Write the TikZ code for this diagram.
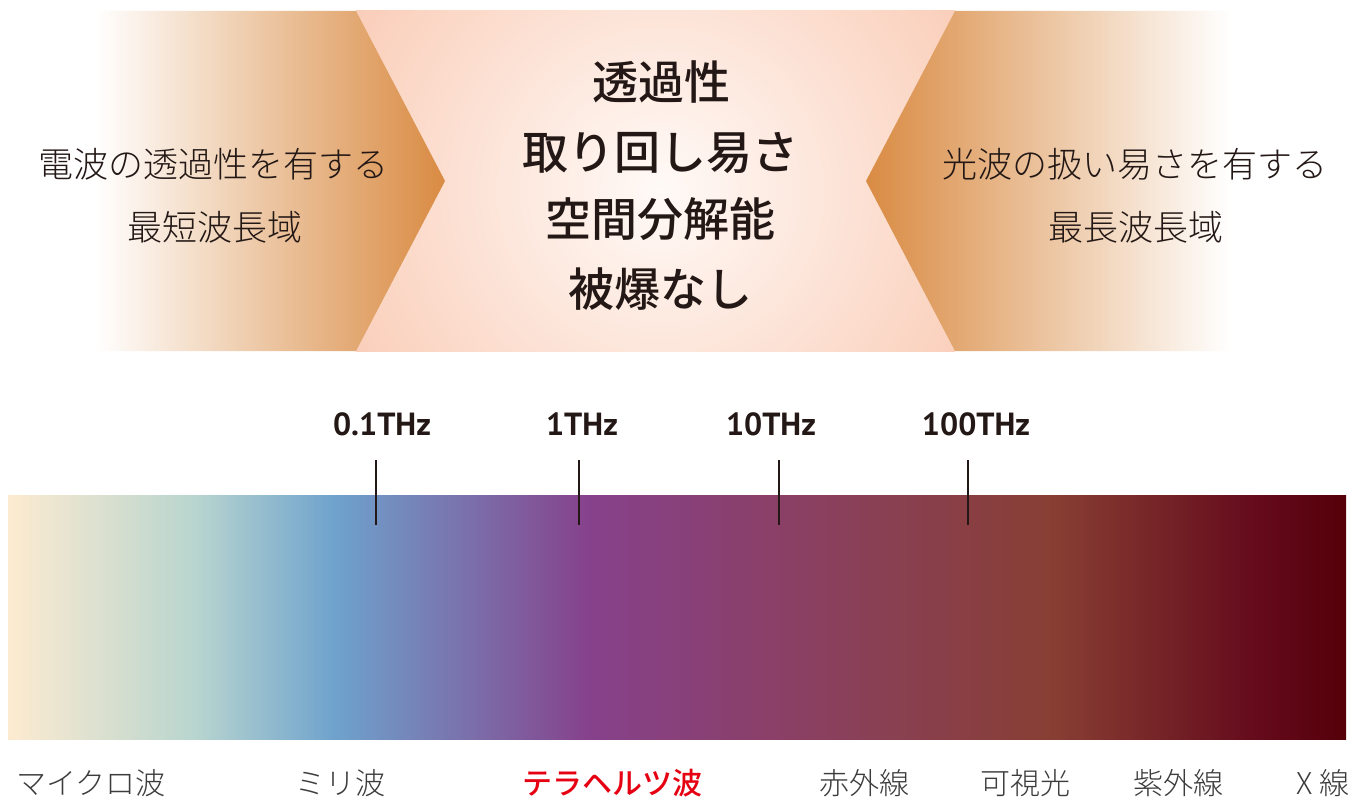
\documentclass[tikz,border=0pt]{standalone}
\usepackage{fontspec}
\newfontfamily\jp{Noto Sans CJK JP}
\newfontfamily\jplight{Noto Sans CJK JP}[UprightFont=* Light]
\newfontfamily\jpmed{Noto Sans CJK JP}[UprightFont=* Medium]
\newfontfamily\freqfont{PT Sans}
\definecolor{arroworange}{HTML}{D98B43}
\definecolor{pinkedge}{HTML}{FACDB8}
\definecolor{pinkcenter}{HTML}{FFFAF7}
\definecolor{txtdark}{HTML}{231815}
\definecolor{txtgray}{HTML}{3C3C3C}
\definecolor{terared}{HTML}{E50012}
\definecolor{b0}{HTML}{FDEBD0}
\definecolor{b1}{HTML}{B8D5CF}
\definecolor{b2}{HTML}{6EA2CD}
\definecolor{b3}{HTML}{86418B}
\definecolor{b4}{HTML}{8A4068}
\definecolor{b5}{HTML}{883F33}
\definecolor{b6}{HTML}{640A1C}
\definecolor{b7}{HTML}{550009}
\pgfdeclarehorizontalshading{barshade}{100bp}{color(0bp)=(b0); color(25bp)=(b0); color(32bp)=(b1); color(37.25bp)=(b2); color(46.75bp)=(b3); color(53.5bp)=(b4); color(64bp)=(b5); color(71.75bp)=(b6); color(75bp)=(b7); color(100bp)=(b7)}
\tikzset{
  centertxt/.style={inner sep=0pt, text=txtdark, font=\jpmed\fontsize{46}{46}\selectfont},
  sidetxt/.style={inner sep=0pt, text=txtdark, font=\jplight\fontsize{35}{35}\selectfont},
  freqlbl/.style={inner sep=0pt, anchor=base, text=txtdark, font=\freqfont\bfseries\fontsize{32}{32}\selectfont},
  bandlbl/.style={inner sep=0pt, text=txtgray, font=\jplight\fontsize{30}{30}\selectfont},
  redlbl/.style={inner sep=0pt, text=terared, font=\jpmed\fontsize{30}{30}\selectfont},
  tickline/.style={draw=txtdark, line width=2pt}
}
\begin{document}
\begin{tikzpicture}[x=1pt,y=-1pt]
\useasboundingbox[fill=white] (0,0) rectangle (1368,800);
% centre panel
\fill[pinkedge] (356,11) rectangle (955,351);
\begin{scope}
  \clip (356,11) rectangle (955,351);
  \shade[inner color=pinkcenter, outer color=pinkedge] (660,190) circle (360);
\end{scope}
% left arrow
\shade[left color=white, right color=arroworange] (95,11) -- (356,11) -- (445,181) -- (356,351) -- (95,351) -- cycle;
% right arrow
\shade[left color=arroworange, right color=white] (1230,11) -- (955,11) -- (866,181) -- (955,351) -- (1230,351) -- cycle;
% texts
\node[sidetxt] (l1) at (213,164) {電波の透過性を有する};
\node[sidetxt] (l2) at (215,227) {最短波長域};
\node[sidetxt] (r1) at (1135,164) {光波の扱い易さを有する};
\node[sidetxt] (r2) at (1136,227) {最長波長域};
\node[centertxt] (c1) at (661,82) {透過性};
\node[centertxt] (c2) at (660,153) {取り回し易さ};
\node[centertxt] (c3) at (660,219) {空間分解能};
\node[centertxt] (c4) at (660,289) {被爆なし};
% spectrum bar
\shade[shading=barshade] (8,495) rectangle (1346,739);
% ticks
\coordinate (t1a) at (376,460); \coordinate (t1b) at (376,525);
\coordinate (t2a) at (579,460); \coordinate (t2b) at (579,525);
\coordinate (t3a) at (779,460); \coordinate (t3b) at (779,525);
\coordinate (t4a) at (968,460); \coordinate (t4b) at (968,525);
\draw[tickline] (t1a) -- (t1b);
\draw[tickline] (t2a) -- (t2b);
\draw[tickline] (t3a) -- (t3b);
\draw[tickline] (t4a) -- (t4b);
\node[freqlbl] (f1) at (382,435) {0.1THz};
\node[freqlbl] (f2) at (582,435) {1THz};
\node[freqlbl] (f3) at (771,435) {10THz};
\node[freqlbl] (f4) at (976,435) {100THz};
% band labels
\node[bandlbl] (w1) at (91,783) {マイクロ波};
\node[bandlbl] (w2) at (340,783) {ミリ波};
\node[redlbl] (w3) at (612,783) {テラヘルツ波};
\node[bandlbl] (w4) at (864,783) {赤外線};
\node[bandlbl] (w5) at (1025,783) {可視光};
\node[bandlbl] (w6) at (1178,783) {紫外線};
\node[bandlbl] (w7) at (1323,783) {X 線};
\end{tikzpicture}
\end{document}
